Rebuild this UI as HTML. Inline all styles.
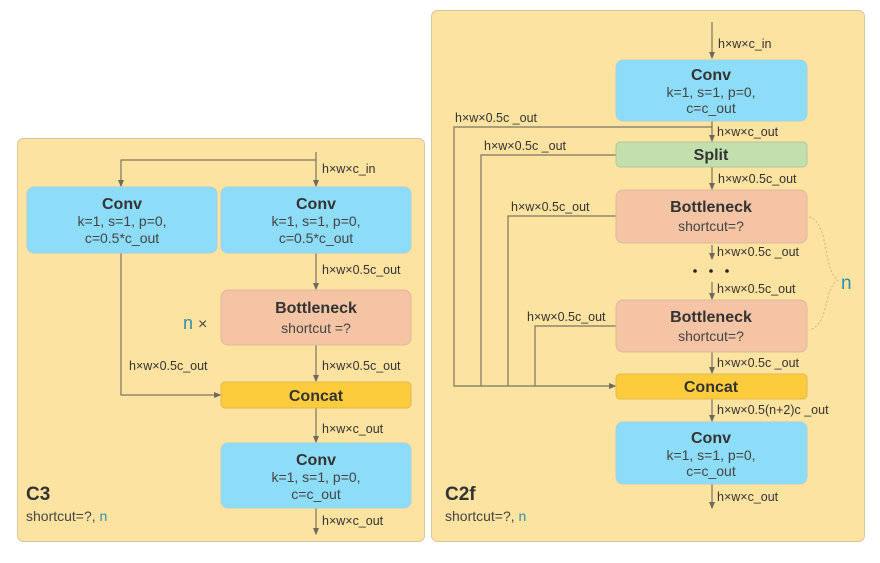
<!DOCTYPE html>
<html><head><meta charset="utf-8"><style>
html,body{margin:0;padding:0;background:#fff;}
svg{display:block;font-family:"Liberation Sans",sans-serif;}
.l{font-size:12.5px;fill:#333;}
.t{font-size:16px;font-weight:bold;fill:#333;}
.s{font-size:14px;fill:#444;}
</style></head><body>
<svg width="880" height="563" viewBox="0 0 880 563" xmlns="http://www.w3.org/2000/svg">
<defs><marker id="a" markerWidth="6" markerHeight="6" refX="5" refY="3" orient="auto"><path d="M0,0.5 L6,3 L0,5.5z" fill="#6f6a5c"/></marker></defs>
<rect x="17.5" y="138.5" width="407" height="403" rx="6" fill="#fde3a0" stroke="#d8c79c"/>
<g stroke="#7a7466" stroke-width="1.2" fill="none">
<line x1="316" y1="152" x2="316" y2="186" marker-end="url(#a)"/>
<polyline points="316,160 121,160 121,186" marker-end="url(#a)"/>
<line x1="316" y1="253" x2="316" y2="289" marker-end="url(#a)"/>
<line x1="316" y1="345" x2="316" y2="381" marker-end="url(#a)"/>
<polyline points="121,253 121,395 220,395" marker-end="url(#a)"/>
<line x1="316" y1="408" x2="316" y2="442" marker-end="url(#a)"/>
<line x1="316" y1="508" x2="316" y2="534" marker-end="url(#a)"/>
</g>
<rect x="27" y="187" width="190" height="66" rx="7" fill="#8ddcf8" stroke="#a9cfe0"/>
<rect x="221" y="187" width="190" height="66" rx="7" fill="#8ddcf8" stroke="#a9cfe0"/>
<rect x="221" y="290" width="190" height="55" rx="7" fill="#f4c4a4" stroke="#dcb9a0"/>
<rect x="221" y="382" width="190" height="26" rx="4" fill="#fccc3c" stroke="#e0b850"/>
<rect x="221" y="443" width="190" height="65" rx="7" fill="#8ddcf8" stroke="#a9cfe0"/>
<g text-anchor="middle">
<text x="122" y="209" class="t">Conv</text><text x="122" y="226" class="s">k=1, s=1, p=0,</text><text x="122" y="243" class="s">c=0.5*c_out</text>
<text x="316" y="209" class="t">Conv</text><text x="316" y="226" class="s">k=1, s=1, p=0,</text><text x="316" y="243" class="s">c=0.5*c_out</text>
<text x="316" y="313" class="t">Bottleneck</text><text x="316" y="333" class="s">shortcut =?</text>
<text x="316" y="401" class="t">Concat</text>
<text x="316" y="465" class="t">Conv</text><text x="316" y="482" class="s">k=1, s=1, p=0,</text><text x="316" y="499" class="s">c=c_out</text>
</g>
<g class="l">
<text x="322" y="173">h×w×c_in</text>
<text x="322" y="274">h×w×0.5c_out</text>
<text x="322" y="370">h×w×0.5c_out</text>
<text x="129" y="370">h×w×0.5c_out</text>
<text x="322" y="433">h×w×c_out</text>
<text x="322" y="525">h×w×c_out</text>
</g>
<text x="183" y="329" font-size="18" fill="#2f8fb0">n <tspan fill="#444" font-size="16">×</tspan></text>
<text x="26" y="500" font-size="19" font-weight="bold" fill="#333">C3</text>
<text x="26" y="521" font-size="14" fill="#444">shortcut=?, <tspan fill="#2f8fb0">n</tspan></text>

<rect x="431.5" y="10.5" width="433" height="531" rx="6" fill="#fde3a0" stroke="#d8c79c"/>
<g stroke="#7a7466" stroke-width="1.2" fill="none">
<line x1="712" y1="22" x2="712" y2="58" marker-end="url(#a)"/>
<line x1="712" y1="121" x2="712" y2="141" marker-end="url(#a)"/>
<line x1="712" y1="167" x2="712" y2="189" marker-end="url(#a)"/>
<line x1="712" y1="245" x2="712" y2="259" marker-end="url(#a)"/>
<line x1="712" y1="282" x2="712" y2="299" marker-end="url(#a)"/>
<line x1="712" y1="352" x2="712" y2="373" marker-end="url(#a)"/>
<line x1="712" y1="399" x2="712" y2="421" marker-end="url(#a)"/>
<line x1="712" y1="484" x2="712" y2="508" marker-end="url(#a)"/>
<polyline points="712,127 454,127 454,386 615,386" marker-end="url(#a)"/>
<polyline points="616,155 481,155 481,386"/>
<polyline points="616,216 508,216 508,386"/>
<polyline points="616,326 535,326 535,386"/>
</g>
<path d="M809,217 C830,222 822,270 838,280 C822,290 830,325 809,330" fill="none" stroke="#c9b98a" stroke-width="1" stroke-dasharray="2,2"/>
<rect x="616" y="60" width="191" height="61" rx="7" fill="#8ddcf8" stroke="#a9cfe0"/>
<rect x="616" y="142" width="191" height="25" rx="4" fill="#c4dfae" stroke="#aec99a"/>
<rect x="616" y="190" width="191" height="53" rx="7" fill="#f4c4a4" stroke="#dcb9a0"/>
<rect x="616" y="300" width="191" height="52" rx="7" fill="#f4c4a4" stroke="#dcb9a0"/>
<rect x="616" y="374" width="191" height="25" rx="4" fill="#fccc3c" stroke="#e0b850"/>
<rect x="616" y="422" width="191" height="62" rx="7" fill="#8ddcf8" stroke="#a9cfe0"/>
<g text-anchor="middle">
<text x="711" y="80" class="t">Conv</text><text x="711" y="97" class="s">k=1, s=1, p=0,</text><text x="711" y="113" class="s">c=c_out</text>
<text x="711" y="160" class="t">Split</text>
<text x="711" y="212" class="t">Bottleneck</text><text x="711" y="231" class="s">shortcut=?</text>
<text x="711" y="322" class="t">Bottleneck</text><text x="711" y="341" class="s">shortcut=?</text>
<text x="711" y="392" class="t">Concat</text>
<text x="711" y="443" class="t">Conv</text><text x="711" y="460" class="s">k=1, s=1, p=0,</text><text x="711" y="476" class="s">c=c_out</text>
</g>
<g fill="#222"><circle cx="695" cy="271" r="1.8"/><circle cx="711" cy="271" r="1.8"/><circle cx="727" cy="271" r="1.8"/></g>
<g class="l">
<text x="718" y="48">h×w×c_in</text>
<text x="717" y="136">h×w×c_out</text>
<text x="718" y="183">h×w×0.5c_out</text>
<text x="717" y="256">h×w×0.5c _out</text>
<text x="717" y="293">h×w×0.5c_out</text>
<text x="717" y="367">h×w×0.5c _out</text>
<text x="717" y="414">h×w×0.5(n+2)c _out</text>
<text x="717" y="501">h×w×c_out</text>
<text x="455" y="122">h×w×0.5c _out</text>
<text x="484" y="150">h×w×0.5c _out</text>
<text x="511" y="211">h×w×0.5c_out</text>
<text x="527" y="321">h×w×0.5c_out</text>
</g>
<text x="841" y="289" font-size="19" fill="#2f8fb0">n</text>
<text x="445" y="500" font-size="19" font-weight="bold" fill="#333">C2f</text>
<text x="445" y="521" font-size="14" fill="#444">shortcut=?, <tspan fill="#2f8fb0">n</tspan></text>
</svg>
</body></html>
